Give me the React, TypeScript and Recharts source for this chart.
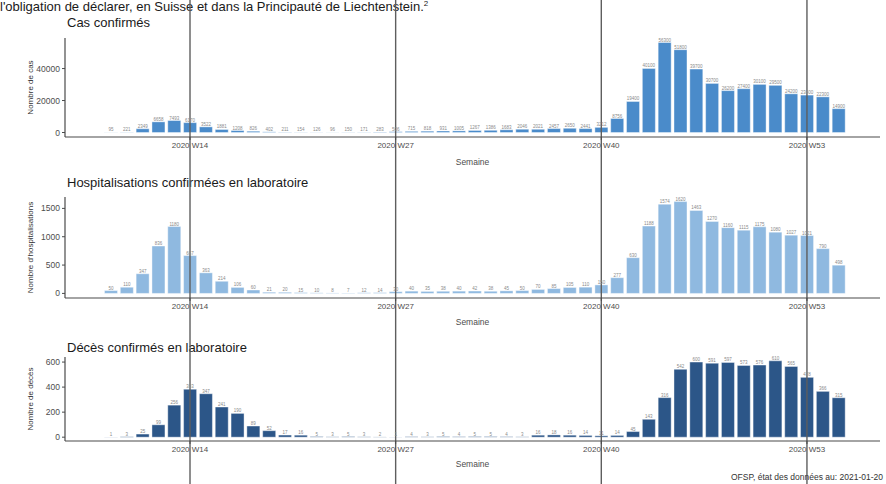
import React from 'react';
import { BarChart, Bar, XAxis, YAxis, ReferenceLine, LabelList } from 'recharts';

const weeks = [
  '2020 W9', '2020 W10', '2020 W11', '2020 W12', '2020 W13', '2020 W14', '2020 W15', '2020 W16', '2020 W17', '2020 W18',
  '2020 W19', '2020 W20', '2020 W21', '2020 W22', '2020 W23', '2020 W24', '2020 W25', '2020 W26', '2020 W27', '2020 W28',
  '2020 W29', '2020 W30', '2020 W31', '2020 W32', '2020 W33', '2020 W34', '2020 W35', '2020 W36', '2020 W37', '2020 W38',
  '2020 W39', '2020 W40', '2020 W41', '2020 W42', '2020 W43', '2020 W44', '2020 W45', '2020 W46', '2020 W47', '2020 W48',
  '2020 W49', '2020 W50', '2020 W51', '2020 W52', '2020 W53', '2021 W1', '2021 W2',
];

const cases = [
  95, 221, 2349, 6658, 7493, 6170, 3522, 1881, 1208, 826,
  402, 211, 154, 126, 96, 150, 171, 283, 506, 715,
  818, 931, 1005, 1267, 1386, 1683, 2046, 2021, 2457, 2650,
  2441, 3212, 8756, 19400, 40100, 56300, 51800, 39700, 30700, 26200,
  27400, 30100, 29500, 24200, 23400, 22300, 14900,
];

const hospitalisations = [
  50, 110, 347, 836, 1180, 667, 363, 214, 106, 60,
  21, 20, 15, 10, 8, 7, 12, 14, 30, 40,
  35, 38, 40, 42, 38, 45, 50, 70, 85, 105,
  110, 150, 277, 630, 1188, 1574, 1620, 1463, 1270, 1160,
  1115, 1175, 1080, 1027, 1021, 790, 498,
];

const deaths = [
  1, 3, 25, 99, 256, 383, 347, 241, 190, 89,
  52, 17, 16, 5, 3, 5, 3, 2, 1, 4,
  3, 5, 4, 5, 5, 4, 3, 16, 18, 16,
  14, 11, 14, 45, 143, 316, 542, 600, 591, 597,
  573, 576, 610, 565, 478, 366, 315,
];

const xTicks = ['2020 W14', '2020 W27', '2020 W40', '2020 W53'];
const casesTicks = [0, 20000, 40000];
const hospTicks = [0, 500, 1000, 1500];
const deathTicks = [0, 200, 400, 600];

const FONT = '"Liberation Sans", Arial, sans-serif';
const AXIS_COLOR = '#4a4a4a';
const TEXT_COLOR = '#4d4d4d';
const VLINE_COLOR = '#5e5e5e';

type PanelProps = {
  top: number;
  height: number;
  marginTop: number;
  marginBottom: number;
  values: number[];
  color: string;
  yTicks: number[];
  yLabel: string;
  title: string;
  titleTop: number;
  semaineOffset: number;
};

function Panel(p: PanelProps) {
  const data = weeks.map((w, i) => ({ week: w, value: p.values[i] }));
  const max = Math.max(...p.values);
  const lo = -0.05 * max;
  const hi = 1.05 * max;
  return (
    <>
      <div
        style={{
          position: 'absolute',
          left: 67,
          top: p.titleTop,
          fontFamily: FONT,
          fontSize: 13,
          lineHeight: '15px',
          color: '#1a1a1a',
          whiteSpace: 'nowrap',
        }}
      >
        {p.title}
      </div>
      <div style={{ position: 'absolute', left: 0, top: p.top }}>
        <BarChart
          width={886}
          height={p.height}
          data={data}
          margin={{ top: p.marginTop, right: 6, bottom: p.marginBottom, left: 0 }}
          barCategoryGap={1.5}
          style={{ fontFamily: FONT }}
        >
          <XAxis
            dataKey="week"
            type="category"
            ticks={xTicks}
            interval={0}
            height={30}
            padding={{ left: 38, right: 33.5 }}
            tick={{ fontSize: 8, fill: TEXT_COLOR }}
            tickSize={3}
            tickMargin={2}
            axisLine={{ stroke: AXIS_COLOR, strokeWidth: 1.2 }}
            tickLine={{ stroke: AXIS_COLOR }}
            label={{ value: 'Semaine', position: 'insideBottom', offset: p.semaineOffset, fontSize: 8.5, fill: TEXT_COLOR }}
          />
          <YAxis
            type="number"
            domain={[lo, hi]}
            ticks={p.yTicks}
            width={65}
            tick={{ fontSize: 8.5, fill: TEXT_COLOR }}
            tickSize={3}
            tickMargin={2}
            axisLine={{ stroke: AXIS_COLOR, strokeWidth: 1.2 }}
            tickLine={{ stroke: AXIS_COLOR }}
            label={{
              value: p.yLabel,
              angle: -90,
              position: 'insideLeft',
              offset: 30,
              fontSize: 8,
              fill: '#333',
              style: { textAnchor: 'middle' },
            }}
          />
          <Bar dataKey="value" fill={p.color} stroke="#ffffff" strokeWidth={0.4} isAnimationActive={false}>
            <LabelList dataKey="value" position="top" offset={1} fontSize={4.5} fill="#8a8a8a" />
          </Bar>
          {xTicks.map((t) => (
            <ReferenceLine
              key={t}
              segment={[
                { x: t, y: -3 * max },
                { x: t, y: 4 * max },
              ]}
              ifOverflow="visible"
              stroke={VLINE_COLOR}
              strokeWidth={1.4}
            />
          ))}
        </BarChart>
      </div>
    </>
  );
}

export default function App() {
  return (
    <div
      style={{
        position: 'absolute',
        left: 0,
        top: 0,
        width: 886,
        height: 484,
        background: '#ffffff',
        overflow: 'hidden',
        fontFamily: FONT,
      }}
    >
      <div
        style={{
          position: 'absolute',
          left: 0,
          top: 0,
          fontSize: 13,
          lineHeight: '14px',
          color: '#1a1a1a',
          whiteSpace: 'nowrap',
        }}
      >
        l'obligation de déclarer, en Suisse et dans la Principauté de Liechtenstein.
        <span style={{ fontSize: 8, position: 'relative', top: -5 }}>2</span>
      </div>
      <Panel
        top={0}
        height={170}
        marginTop={38}
        marginBottom={3}
        values={cases}
        color="#4a8bca"
        yTicks={casesTicks}
        yLabel="Nombre de cas"
        title="Cas confirmés"
        titleTop={15}
        semaineOffset={2}
      />
      <Panel
        top={170}
        height={160}
        marginTop={27}
        marginBottom={2}
        values={hospitalisations}
        color="#8fb9e0"
        yTicks={hospTicks}
        yLabel="Nombre d'hospitalisations"
        title="Hospitalisations confirmées en laboratoire"
        titleTop={175}
        semaineOffset={3}
      />
      <Panel
        top={330}
        height={154}
        marginTop={27}
        marginBottom={13}
        values={deaths}
        color="#2c5688"
        yTicks={deathTicks}
        yLabel="Nombre de décès"
        title="Décès confirmés en laboratoire"
        titleTop={340}
        semaineOffset={4}
      />
      <div
        style={{
          position: 'absolute',
          right: 3,
          top: 472,
          fontSize: 8.5,
          lineHeight: '10px',
          color: '#333',
          whiteSpace: 'nowrap',
        }}
      >
        OFSP, état des données au: 2021-01-20
      </div>
    </div>
  );
}
